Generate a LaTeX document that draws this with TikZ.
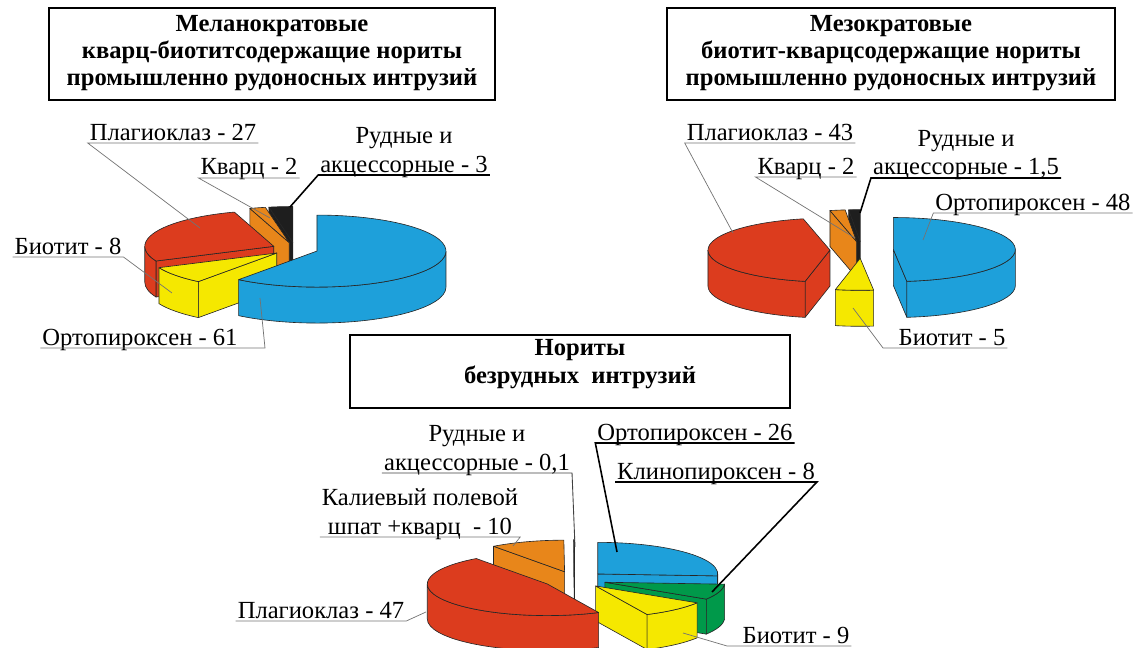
\documentclass[tikz,border=0pt]{standalone}
\usepackage{fontspec}
\setmainfont{Liberation Serif}

\definecolor{sblue}{HTML}{1EA0DA}
\definecolor{sred}{HTML}{DC3C1E}
\definecolor{syellow}{HTML}{F5E800}
\definecolor{sorange}{HTML}{E8861A}
\definecolor{sblack}{HTML}{1E1E1E}
\definecolor{sgreen}{HTML}{00994A}

% exploded 3d pie slice: #1,#2 pie centre, #3 start angle, #4 end angle, #5 colour
% (radii \prx, \pry, depth \pdep, explosion \pex are set per chart)
\newcommand{\pieslice}[5]{%
  \pgfmathsetmacro\slb{(#3+#4)/2}%
  \pgfmathsetmacro\slvx{#1+\pex*\prx*cos(\slb)}%
  \pgfmathsetmacro\slvy{#2+\pex*\pry*sin(\slb)}%
  \pgfmathsetmacro\slvyb{\slvy-\pdep}%
  \pgfmathsetmacro\slax{\slvx+\prx*cos(#3)}%
  \pgfmathsetmacro\slay{\slvy+\pry*sin(#3)}%
  \pgfmathsetmacro\slbx{\slvx+\prx*cos(#4)}%
  \pgfmathsetmacro\slby{\slvy+\pry*sin(#4)}%
  \pgfmathsetmacro\slca{cos(#3)}%
  \pgfmathsetmacro\slcb{cos(#4)}%
  \ifdim\slca pt>0.001pt
    \filldraw[slice,fill=#5] (\slvx,\slvy) -- (\slax,\slay) -- ++(0,-\pdep) -- (\slvx,\slvyb) -- cycle;
  \fi
  \ifdim\slcb pt<-0.001pt
    \filldraw[slice,fill=#5] (\slvx,\slvy) -- (\slbx,\slby) -- ++(0,-\pdep) -- (\slvx,\slvyb) -- cycle;
  \fi
  \pgfmathsetmacro\slws{max(#3,180)}%
  \pgfmathsetmacro\slwe{min(#4,360)}%
  \ifdim\slws pt<\slwe pt
    \pgfmathsetmacro\slwx{\slvx+\prx*cos(\slws)}%
    \pgfmathsetmacro\slwy{\slvy+\pry*sin(\slws)}%
    \filldraw[slice,fill=#5] (\slwx,\slwy)
      arc[start angle=\slws,end angle=\slwe,x radius=\prx,y radius=\pry] -- ++(0,-\pdep)
      arc[start angle=\slwe,end angle=\slws,x radius=\prx,y radius=\pry] -- cycle;
  \fi
  \filldraw[slice,fill=#5] (\slvx,\slvy) -- (\slax,\slay)
    arc[start angle=#3,end angle=#4,x radius=\prx,y radius=\pry] -- cycle;
}

\begin{document}
\begin{tikzpicture}[x=0.02cm,y=0.02cm,
  slice/.style={draw=black!85,line width=0.35pt,line join=round},
  lbl/.style={font=\fontsize{14}{16}\selectfont,align=center,inner xsep=1pt,inner ysep=1.5pt,text depth=0pt,anchor=south},
  ttl/.style={font=\fontsize{14}{15.5}\selectfont\bfseries,align=center},
  box/.style={line width=0.9pt},
  ldr/.style={black!55,line width=0.4pt},
  ldrb/.style={black,line width=0.9pt},
  ldrd/.style={black!75,line width=0.5pt}]
\useasboundingbox (0,0) rectangle (1134,648);

% titles
\draw[box] (49,640) rectangle (495,548);
\node[ttl] (ttl1) at (272,595) {Меланократовые\\кварц-биотитсодержащие нориты\\промышленно рудоносных интрузий};
\draw[box] (667,640) rectangle (1115,548);
\node[ttl] (ttl2) at (891,595) {Мезократовые\\биотит-кварцсодержащие нориты\\промышленно рудоносных интрузий};
\draw[box] (350,313) rectangle (790,240);
\node[ttl] (ttl3) at (580,284) {Нориты\\безрудных\ \ интрузий};

% chart 1
\def\prx{129}\def\pry{36}\def\pdep{36}\def\pex{0.18}
\pieslice{295}{399}{90}{100.692}{sblack}
\pieslice{295}{399}{100.692}{107.821}{sorange}
\pieslice{295}{399}{107.821}{204.059}{sred}
\pieslice{295}{399}{204.059}{232.574}{syellow}
\pieslice{295}{399}{232.574}{450}{sblue}

% chart 2
\def\prx{122}\def\pry{32}\def\pdep{36}\def\pex{0.26}
\pieslice{861.7}{398}{90}{95.428}{sblack}
\pieslice{861.7}{398}{95.428}{102.664}{sorange}
\pieslice{861.7}{398}{102.664}{258.242}{sred}
\pieslice{861.7}{398}{276.332}{450}{sblue}
\pieslice{861.7}{398}{258.242}{276.332}{syellow}

% chart 3
\def\prx{120}\def\pry{31.6}\def\pdep{35}\def\pex{0.265}
\pieslice{574.6}{68.3}{90}{90.36}{white}
\pieslice{574.6}{68.3}{90.36}{126.324}{sorange}
\pieslice{574.6}{68.3}{356.494}{450}{sblue}
\pieslice{574.6}{68.3}{327.723}{356.494}{sgreen}
\pieslice{574.6}{68.3}{295.355}{327.723}{syellow}
\pieslice{574.6}{68.3}{126.324}{295.355}{sred}

% labels chart 1
\node[lbl] (l1pl) at (173,505) {Плагиоклаз - 27};
\node[lbl] (l1qz) at (249,470) {Кварц - 2};
\node[lbl] (l1ore) at (404,473) {Рудные и\\акцессорные - 3};
\node[lbl] (l1bt) at (68,391) {Биотит - 8};
\node[lbl] (l1op) at (140,300) {Ортопироксен - 61};
\coordinate (p1pl) at (200,420);
\coordinate (p1qz) at (270,430);
\coordinate (p1ore) at (290,441);
\coordinate (p1bt) at (172,355);
\coordinate (p1op) at (260,350);
\coordinate (k1op) at (265,300);
\draw[ldr] (p1pl) -- (l1pl.south west) -- (l1pl.south east);
\draw[ldr] (p1qz) -- (l1qz.south west) -- (l1qz.south east);
\draw[ldrb] (p1ore) -- (l1ore.south west) -- (l1ore.south east);
\draw[ldr] (p1bt) -- (l1bt.south east) -- (l1bt.south west);
\draw[ldr] (p1op) -- (k1op) -- (l1op.south west);

% labels chart 2
\node[lbl] (l2pl) at (770,505) {Плагиоклаз - 43};
\node[lbl] (l2qz) at (806,471) {Кварц - 2};
\node[lbl] (l2ore) at (966,470) {Рудные и\\акцессорные - 1,5};
\node[lbl] (l2op) at (1033,435) {Ортопироксен - 48};
\node[lbl] (l2bt) at (952,300) {Биотит - 5};
\coordinate (p2pl) at (733,415);
\coordinate (p2qz) at (855,410);
\coordinate (p2ore) at (860,435);
\coordinate (p2op) at (923,408);
\coordinate (p2bt) at (853,340);
\coordinate (k2bt) at (883,300);
\draw[ldr] (p2pl) -- (l2pl.south west) -- (l2pl.south east);
\draw[ldr] (p2qz) -- (l2qz.south west) -- (l2qz.south east);
\draw[ldrb] (p2ore) -- (l2ore.south west) -- (l2ore.south east);
\draw[ldr] (p2op) -- (l2op.south west) -- (l2op.south east);
\draw[ldr] (p2bt) -- (k2bt) -- (l2bt.south east);

% labels chart 3
\node[lbl] (l3ore) at (477,175) {Рудные и\\акцессорные - 0,1};
\node[lbl] (l3op) at (695,205) {Ортопироксен - 26};
\node[lbl] (l3cp) at (716,166) {Клинопироксен - 8};
\node[lbl] (l3kf) at (420,111) {Калиевый полевой\\шпат +кварц\ \ - 10};
\node[lbl] (l3pl) at (321,27) {Плагиоклаз - 47};
\node[lbl] (l3bt) at (796,2) {Биотит - 9};
\coordinate (p3ore) at (575,101);
\coordinate (p3op) at (617,96);
\coordinate (p3cp) at (712,56);
\coordinate (p3kf) at (513,102);
\coordinate (p3pl) at (426,36);
\coordinate (p3bt) at (683,15);
\coordinate (k3bt) at (727,2);
\draw[ldrd] (p3ore) -- (l3ore.south east) -- (l3ore.south west);
\draw[ldrb] (p3op) -- (l3op.south west) -- (l3op.south east);
\draw[ldrb] (p3cp) -- (l3cp.south east) -- (l3cp.south west);
\draw[ldr] (p3kf) -- (l3kf.south east) -- (l3kf.south west);
\draw[ldr] (p3pl) -- (l3pl.south east) -- (l3pl.south west);
\draw[ldr] (p3bt) -- (k3bt) -- (l3bt.south east);
\end{tikzpicture}
\end{document}
